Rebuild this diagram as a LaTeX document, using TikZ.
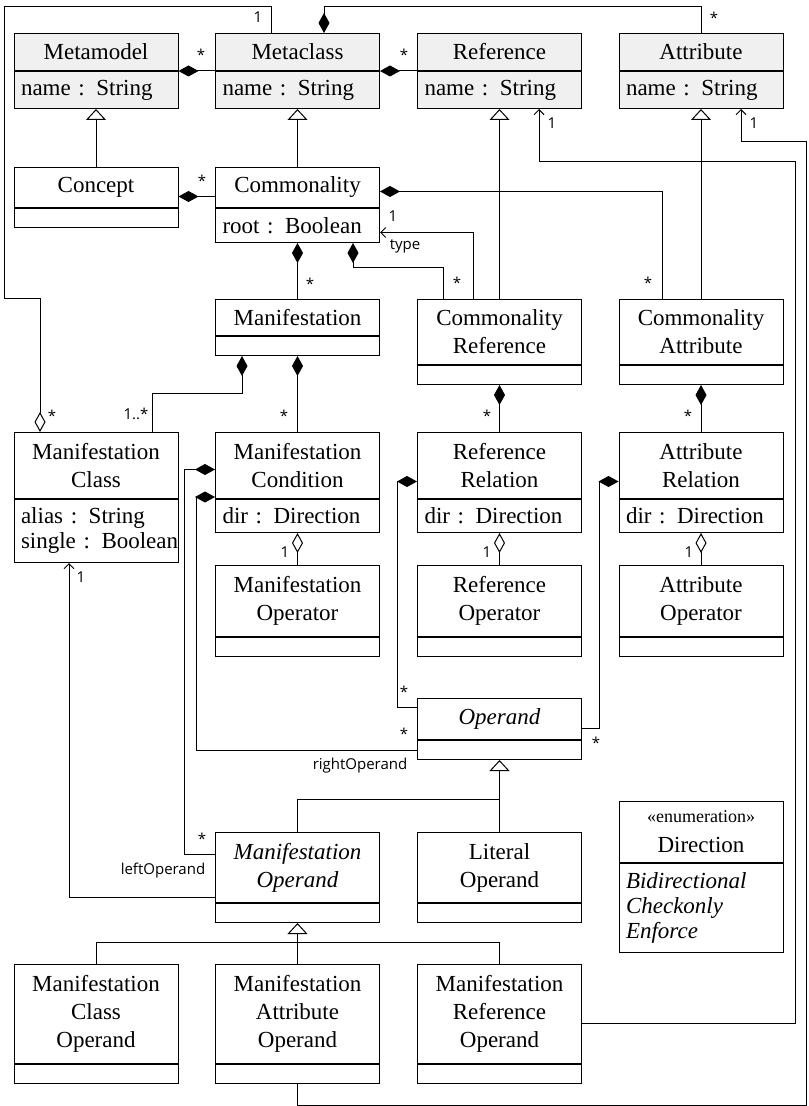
\documentclass[tikz,border=0pt]{standalone}
\usepackage{fontspec}
\setmainfont{Liberation Serif}
\setsansfont{Open Sans}
\usetikzlibrary{arrows.meta,calc}

\begin{document}
\begin{tikzpicture}[
  x=0.5pt, y=-0.5pt, line width=0.5pt,
  cls/.style={draw, anchor=north, minimum width=82pt, inner sep=0pt, align=center, font=\rmfamily\fontsize{11.5}{14}\selectfont},
  cmp/.style={draw, anchor=north, text width=75pt, inner xsep=3.5pt, inner ysep=0pt, align=left, font=\rmfamily\fontsize{11.5}{12.5}\selectfont},
  meta/.style={fill=black!6},
  lbl/.style={font=\sffamily\fontsize{7.5}{9}\selectfont, inner sep=0pt},
  comp/.style={-{Diamond[length=10pt,width=5.5pt]}},
  aggr/.style={-{Diamond[open,length=10pt,width=5.5pt]}},
  gen/.style={-{Triangle[open,length=5.5pt,width=10pt]}},
  nav/.style={-{Straight Barb[length=2.5pt,width=5pt]}}
]
  \useasboundingbox (0,0) rectangle (808,1106);

  \node[cls, meta, minimum height=18.5pt] (metamodel) at (96,33) {Metamodel};
  \node[cmp, meta, minimum height=18.5pt] (metamodel-b) at (metamodel.south) {name : String};
  \node[cls, meta, minimum height=18.5pt] (metaclass) at (297.5,33) {Metaclass};
  \node[cmp, meta, minimum height=18.5pt] (metaclass-b) at (metaclass.south) {name : String};
  \node[cls, meta, minimum height=18.5pt] (reference) at (499.5,33) {Reference};
  \node[cmp, meta, minimum height=18.5pt] (reference-b) at (reference.south) {name : String};
  \node[cls, meta, minimum height=18.5pt] (attribute) at (701,33) {Attribute};
  \node[cmp, meta, minimum height=18.5pt] (attribute-b) at (attribute.south) {name : String};

  \node[cls, minimum height=20pt] (concept) at (96,167) {Concept};
  \node[cmp, minimum height=9.5pt] (concept-b) at (concept.south) {};
  \node[cls, minimum height=20pt] (commonality) at (297.5,167) {Commonality};
  \node[cmp, minimum height=17pt] (commonality-b) at (commonality.south) {root : Boolean};

  \node[cls, minimum height=18pt] (manifestation) at (297.5,299) {Manifestation};
  \node[cmp, minimum height=9.5pt] (manifestation-b) at (manifestation.south) {};
  \node[cls, minimum height=32.5pt] (commref) at (499.5,299) {Commonality\\Reference};
  \node[cmp, minimum height=9.5pt] (commref-b) at (commref.south) {};
  \node[cls, minimum height=32.5pt] (commattr) at (701,299) {Commonality\\Attribute};
  \node[cmp, minimum height=9.5pt] (commattr-b) at (commattr.south) {};

  \node[cls, minimum height=33pt] (mclass) at (96,432) {Manifestation\\Class};
  \node[cmp, minimum height=31.5pt] (mclass-b) at (mclass.south) {alias : String\\\mbox{single : Boolean}};
  \node[cls, minimum height=33pt] (mcond) at (297.5,432) {Manifestation\\Condition};
  \node[cmp, minimum height=16.5pt] (mcond-b) at (mcond.south) {dir : Direction};
  \node[cls, minimum height=33pt] (refrel) at (499.5,432) {Reference\\Relation};
  \node[cmp, minimum height=16.5pt] (refrel-b) at (refrel.south) {dir : Direction};
  \node[cls, minimum height=33pt] (attrrel) at (701,432) {Attribute\\Relation};
  \node[cmp, minimum height=16.5pt] (attrrel-b) at (attrrel.south) {dir : Direction};

  \node[cls, minimum height=35.5pt] (mop) at (297.5,565) {Manifestation\\Operator};
  \node[cmp, minimum height=9.5pt] (mop-b) at (mop.south) {};
  \node[cls, minimum height=35.5pt] (refop) at (499.5,565) {Reference\\Operator};
  \node[cmp, minimum height=9.5pt] (refop-b) at (refop.south) {};
  \node[cls, minimum height=35.5pt] (attrop) at (701,565) {Attribute\\Operator};
  \node[cmp, minimum height=9.5pt] (attrop-b) at (attrop.south) {};

  \node[cls, minimum height=20.5pt] (operand) at (499.5,698) {\itshape Operand};
  \node[cmp, minimum height=9.5pt] (operand-b) at (operand.south) {};
  \node[cls, minimum height=30.5pt] (direction) at (701,801) {{\fontsize{9}{10}\selectfont «enumeration»}\\[1pt]Direction};
  \node[cmp, minimum height=44.5pt] (direction-b) at (direction.south) {\itshape Bidirectional\\Checkonly\\Enforce};

  \node[cls, minimum height=35pt] (manifop) at (297.5,832) {\itshape Manifestation\\\itshape Operand};
  \node[cmp, minimum height=9.5pt] (manifop-b) at (manifop.south) {};
  \node[cls, minimum height=35pt] (literal) at (499.5,832) {Literal\\Operand};
  \node[cmp, minimum height=9.5pt] (literal-b) at (literal.south) {};

  \node[cls, minimum height=49.5pt] (mco) at (96,964) {Manifestation\\Class\\Operand};
  \node[cmp, minimum height=9.5pt] (mco-b) at (mco.south) {};
  \node[cls, minimum height=49.5pt] (mao) at (297.5,964) {Manifestation\\Attribute\\Operand};
  \node[cmp, minimum height=9.5pt] (mao-b) at (mao.south) {};
  \node[cls, minimum height=49.5pt] (mro) at (499.5,964) {Manifestation\\Reference\\Operand};
  \node[cmp, minimum height=9.5pt] (mro-b) at (mro.south) {};

  \draw[gen] (concept.north) -- (metamodel-b.south);
  \draw[gen] (commonality.north) -- (metaclass-b.south);
  \draw[gen] (commref.north) -- (reference-b.south);
  \draw[gen] (commattr.north) -- (attribute-b.south);
  \draw[comp] (metaclass.south west) -- (metamodel.south east);
  \draw[comp] (reference.south west) -- (metaclass.south east);
  \draw[comp] (attribute.north) -- ++(0,-26) -| ($(metaclass.north)+(26.5,0)$);
  \draw[aggr] ($(metaclass.north)+(-26.5,0)$) -- ++(0,-26) -| (4,299) -| ($(mclass.north)+(-56,0)$);
  \draw[comp] ([yshift=-4.5pt]commonality.west) -- ([yshift=-4.5pt]concept.east);
  \draw[comp] ($(commattr.north)+(-39,0)$) |- ([yshift=-2pt]commonality.east);
  \draw[nav] ($(commref.north)+(-26.5,0)$) |- ([yshift=-3.5pt]commonality-b.east);
  \draw[comp] ($(commref.north)+(-56.5,0)$) -- ++(0,-31) -| ($(commonality-b.south)+(55.5,0)$);
  \draw[comp] (manifestation.north) -- (commonality-b.south);
  \draw[comp] ($(mclass.north)+(56,0)$) -- ++(0,-38) -| ($(manifestation-b.south)+(-55.5,0)$);
  \draw[comp] (mcond.north) -- (manifestation-b.south);
  \draw[comp] (refrel.north) -- (commref-b.south);
  \draw[comp] (attrrel.north) -- (commattr-b.south);
  \draw[aggr] (mop.north) -- (mcond-b.south);
  \draw[aggr] (refop.north) -- (refrel-b.south);
  \draw[aggr] (attrop.north) -- (attrrel-b.south);
  \draw[comp] ([yshift=6.5pt]manifop.west) -- ++(-31,0) |- ([yshift=-2pt]mcond.west);
  \draw[comp] (operand-b.west) -- ++(-221,0) |- ([yshift=1pt]mcond.south west);
  \draw[comp] ([yshift=5.75pt]operand.west) -- ++(-20,0) |- ([yshift=-8pt]refrel.west);
  \draw[comp] ([yshift=-4.75pt]operand.east) -- ++(17,0) |- ([yshift=-8pt]attrrel.west);
  \draw[nav] ([yshift=-15pt]manifop.west) -| ($(mclass-b.south)+(-27,0)$);
  \draw[gen] (literal.north) -- (operand-b.south);
  \draw (manifop.north) |- ($(literal.north)+(0,-33)$);
  \draw[gen] (mao.north) -- (manifop-b.south);
  \draw (mco.north) -- ++(0,-22) -| (mro.north);
  \draw[nav] ([yshift=-4.75pt]mro.east) -| ($(reference-b.south)+(295.5,53)$) -| ($(reference-b.south)+(39.5,0)$);
  \draw[nav] (mao-b.south) -- ++(0,21) -| ($(attribute-b.south)+(105,33)$) -| ($(attribute-b.south)+(40,0)$);

  \node[lbl] (m1) at (258,17) {1};
  \node[lbl] (m2) at (201,55) {*};
  \node[lbl] (m3) at (404,55) {*};
  \node[lbl] (m4) at (714,18) {*};
  \node[lbl] (m5) at (202,181) {*};
  \node[lbl] (m6) at (393,216) {1};
  \node[lbl] (m7) at (405,246) {type};
  \node[lbl] (m8) at (310,284) {*};
  \node[lbl] (m9) at (457,283) {*};
  \node[lbl] (m10) at (648,283) {*};
  \node[lbl] (m11) at (552,123) {1};
  \node[lbl] (m12) at (754,123) {1};
  \node[lbl] (m13) at (52,416) {*};
  \node[lbl] (m14) at (136,414) {1..*};
  \node[lbl] (m15) at (284,416) {*};
  \node[lbl] (m16) at (487,416) {*};
  \node[lbl] (m17) at (688,416) {*};
  \node[lbl] (m18) at (285,552) {1};
  \node[lbl] (m19) at (487,552) {1};
  \node[lbl] (m20) at (689,552) {1};
  \node[lbl] (m21) at (81,577) {1};
  \node[lbl] (m22) at (404,692) {*};
  \node[lbl] (m23) at (404,734) {*};
  \node[lbl] (m24) at (360,766) {rightOperand};
  \node[lbl] (m25) at (596,743) {*};
  \node[lbl] (m26) at (202,839) {*};
  \node[lbl] (m27) at (163,871) {leftOperand};
\end{tikzpicture}
\end{document}
